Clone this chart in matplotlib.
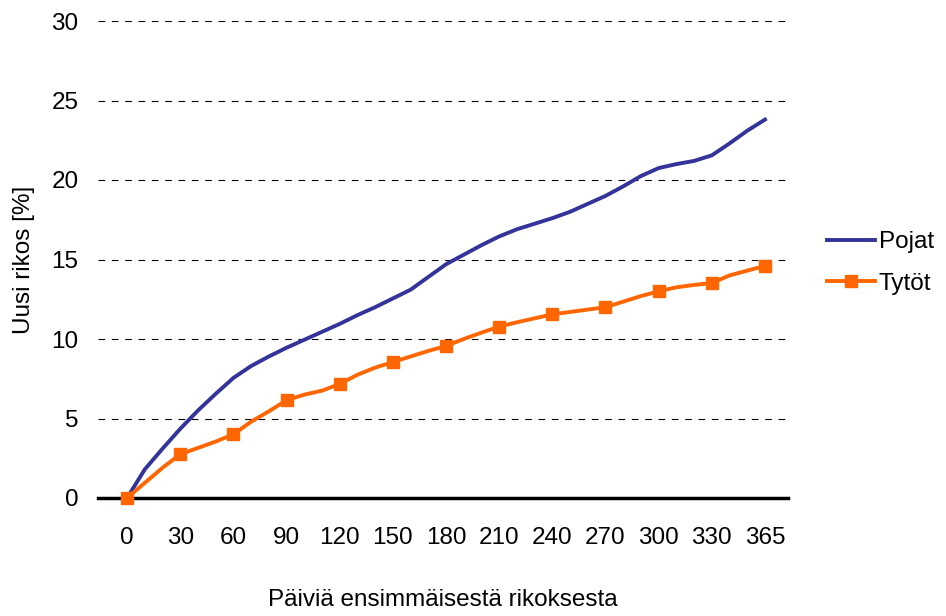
import matplotlib.pyplot as plt

# days since first offence, one point every 10 days, last point at 365
days = list(range(0, 360, 10)) + [365]
tick_days = [0, 30, 60, 90, 120, 150, 180, 210, 240, 270, 300, 330, 365]

pojat = [0, 1.8, 3.1, 4.35, 5.5, 6.55, 7.55, 8.3, 8.9, 9.45, 9.95, 10.45, 10.95,
         11.5, 12.0, 12.55, 13.1, 13.9, 14.7, 15.3, 15.9, 16.45, 16.9, 17.25,
         17.6, 18.0, 18.5, 19.0, 19.6, 20.25, 20.75, 21.0, 21.2, 21.55, 22.3,
         23.1, 23.8]
tytot = [0, 0.95, 1.9, 2.75, 3.15, 3.55, 4.0, 4.8, 5.45, 6.15, 6.5, 6.75, 7.17,
         7.75, 8.2, 8.55, 8.9, 9.25, 9.56, 10.0, 10.4, 10.78, 11.05, 11.3,
         11.55, 11.7, 11.85, 12.0, 12.35, 12.7, 13.0, 13.25, 13.4, 13.52, 14.0,
         14.3, 14.6]

plt.rcParams["font.family"] = ["Liberation Sans", "DejaVu Sans"]
fs = 17.5

fig = plt.figure(figsize=(9.46, 6.16), dpi=100)
ax = fig.add_axes([98 / 946, 1 - 498 / 616, (788 - 98) / 946, (498 - 21) / 616])

idx = list(range(len(days)))
ax.plot(idx, pojat, color="#333399", lw=2.8, label="Pojat", zorder=3)
ax.plot(idx, tytot, color="#FF6600", lw=2.8, marker="s", markersize=8,
        markevery=3, label="Tytöt", zorder=4, clip_on=False)

ax.set_ylim(0, 30)
ax.set_xlim(-1.64, 37.3)
ax.set_yticks([0, 5, 10, 15, 20, 25, 30])
tick_pos = [days.index(d) for d in tick_days]
ax.set_xticks(tick_pos)
ax.set_xticklabels([str(d) for d in tick_days])
ax.tick_params(axis="both", length=0, labelsize=fs)
ax.tick_params(axis="y", pad=14)
ax.tick_params(axis="x", pad=21)

for v in [5, 10, 15, 20, 25, 30]:
    ax.axhline(v, color="black", lw=0.8, ls=(0, (6, 6)), zorder=1)

for s in ["top", "right", "left"]:
    ax.spines[s].set_visible(False)
ax.spines["bottom"].set_linewidth(2.5)
ax.spines["bottom"].set_zorder(2)

ax.set_ylabel("Uusi rikos [%]", fontsize=fs, labelpad=12)
ax.set_xlabel("Päiviä ensimmäisestä rikoksesta", fontsize=fs, labelpad=29)

ax.legend(loc="center left", bbox_to_anchor=(1.056, 0.493), frameon=False,
          fontsize=fs, handlelength=2.0, handletextpad=0.15, labelspacing=0.8,
          borderaxespad=0.0, borderpad=0.0)

fig.savefig("out.png", dpi=100)
